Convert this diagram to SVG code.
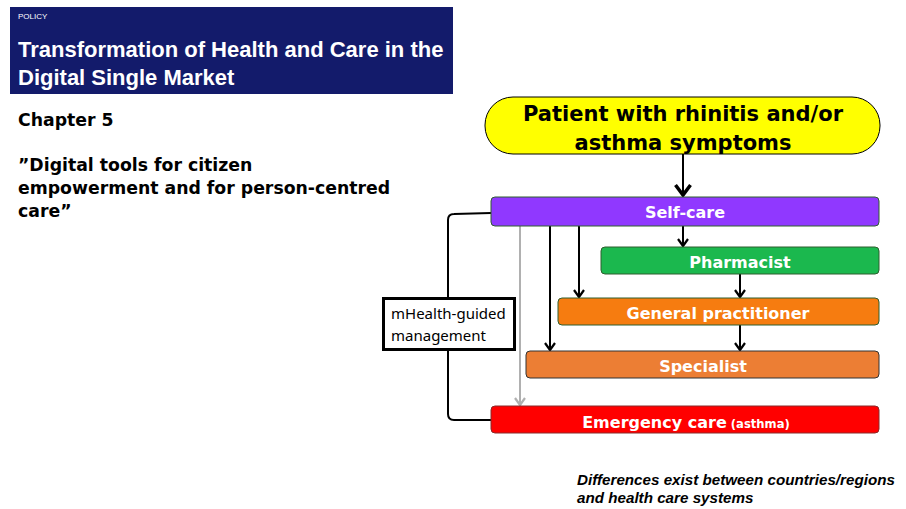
<svg xmlns="http://www.w3.org/2000/svg" width="906" height="509" viewBox="0 0 906 509">
<style>
.hdr{font-family:"Liberation Sans",Arial,sans-serif;fill:#fff}
.ttl{font-weight:700;font-size:22px}
.left{font-family:"DejaVu Sans",Verdana,sans-serif;font-weight:bold;font-size:17.3px;fill:#000}
.box{stroke:#2f5e2f;stroke-width:1}
.lbl{font-family:"DejaVu Sans",Verdana,sans-serif;font-weight:bold;font-size:16px;fill:#fff;text-anchor:middle}
.ln{fill:none;stroke:#000;stroke-width:2}
.note{font-family:"Liberation Sans",Arial,sans-serif;font-weight:bold;font-style:italic;font-size:15.2px;fill:#000}
</style>
<defs>
<marker id="ah" markerWidth="12" markerHeight="12" refX="10" refY="6" orient="auto" markerUnits="userSpaceOnUse" viewBox="0 0 12 12">
<path d="M3,1 L10,6 L3,11" fill="none" stroke="#000" stroke-width="2.2"/>
</marker>
<marker id="ahg" markerWidth="12" markerHeight="12" refX="10" refY="6" orient="auto" markerUnits="userSpaceOnUse" viewBox="0 0 12 12">
<path d="M3,1 L10,6 L3,11" fill="none" stroke="#b0b0b0" stroke-width="2.2"/>
</marker>
<marker id="ahb" markerWidth="16" markerHeight="18" refX="13" refY="9" orient="auto" markerUnits="userSpaceOnUse" viewBox="0 0 16 18">
<path d="M3,1.5 L13,9 L3,16.5" fill="none" stroke="#000" stroke-width="3.5"/>
</marker>
</defs>
<rect width="906" height="509" fill="#fff"/>
<g id="header">
<rect x="10" y="7" width="443" height="87" fill="#131b6b"/>
<text class="hdr" x="18" y="19" font-size="8">POLICY</text>
<text class="hdr ttl" x="18" y="57">Transformation of Health and Care in the</text>
<text class="hdr ttl" x="18" y="85">Digital Single Market</text>
</g>
<g id="chapter">
<text class="left" x="18" y="126">Chapter 5</text>
<text class="left" x="18" y="171">”Digital tools for citizen</text>
<text class="left" x="18" y="194">empowerment and for person-centred</text>
<text class="left" x="18" y="217">care”</text>
</g>
<g id="connectors">
<line class="ln" x1="683" y1="154" x2="683" y2="195" stroke-width="3.5" marker-end="url(#ahb)"/>
<line class="ln" x1="683" y1="226" x2="683" y2="246" marker-end="url(#ah)"/>
<line class="ln" x1="740" y1="274" x2="740" y2="297" marker-end="url(#ah)"/>
<line class="ln" x1="740" y1="325" x2="740" y2="350" marker-end="url(#ah)"/>
<line class="ln" x1="579" y1="226" x2="579" y2="297" marker-end="url(#ah)"/>
<line class="ln" x1="550" y1="226" x2="550" y2="350" marker-end="url(#ah)"/>
<line x1="520" y1="226" x2="520" y2="405" stroke="#b0b0b0" stroke-width="2" marker-end="url(#ahg)"/>
<path class="ln" d="M491,213 L454,214 Q448,214 448,220 L448,414 Q448,420 454,420 L491,420" stroke-width="3"/>
</g>
<g id="patient">
<rect x="485" y="97" width="395" height="57" rx="28" fill="#ffff00" stroke="#000" stroke-width="1"/>
<text x="683" y="121" font-family="DejaVu Sans,Verdana,sans-serif" font-weight="bold" font-size="21" text-anchor="middle">Patient with rhinitis and/or</text>
<text x="683" y="150" font-family="DejaVu Sans,Verdana,sans-serif" font-weight="bold" font-size="21" text-anchor="middle">asthma symptoms</text>
</g>
<g id="selfcare">
<rect class="box" x="491" y="197" width="388" height="29" rx="4" fill="#9038ff"/>
<text class="lbl" x="685" y="218">Self-care</text>
</g>
<g id="pharmacist">
<rect class="box" x="601" y="247" width="278" height="27" rx="4" fill="#1bb84e"/>
<text class="lbl" x="740" y="268">Pharmacist</text>
</g>
<g id="gp">
<rect class="box" x="558" y="298" width="321" height="27" rx="4" fill="#f67c10" stroke="#5a5a2a"/>
<text class="lbl" x="718" y="319" font-size="15.6">General practitioner</text>
</g>
<g id="specialist">
<rect x="526" y="351" width="353" height="27" rx="4" fill="#ec7e34" stroke="#333" stroke-width="1"/>
<text class="lbl" x="703" y="372">Specialist</text>
</g>
<g id="emergency">
<rect x="491" y="406" width="388" height="27" rx="4" fill="#ff0000" stroke="#8a2a2a" stroke-width="1"/>
<text class="lbl" x="686" y="428"><tspan font-size="16">Emergency care</tspan><tspan font-size="11.6"> (asthma)</tspan></text>
</g>
<g id="mhealth">
<rect x="383.5" y="298.5" width="131" height="51" fill="#fff" stroke="#000" stroke-width="3"/>
<text x="391" y="319" font-family="Noto Sans,sans-serif" font-size="15">mHealth-guided</text>
<text x="391" y="341" font-family="Noto Sans,sans-serif" font-size="15">management</text>
</g>
<g id="note">
<text class="note" x="577" y="485">Differences exist between countries/regions</text>
<text class="note" x="577" y="503">and health care systems</text>
</g>
</svg>
